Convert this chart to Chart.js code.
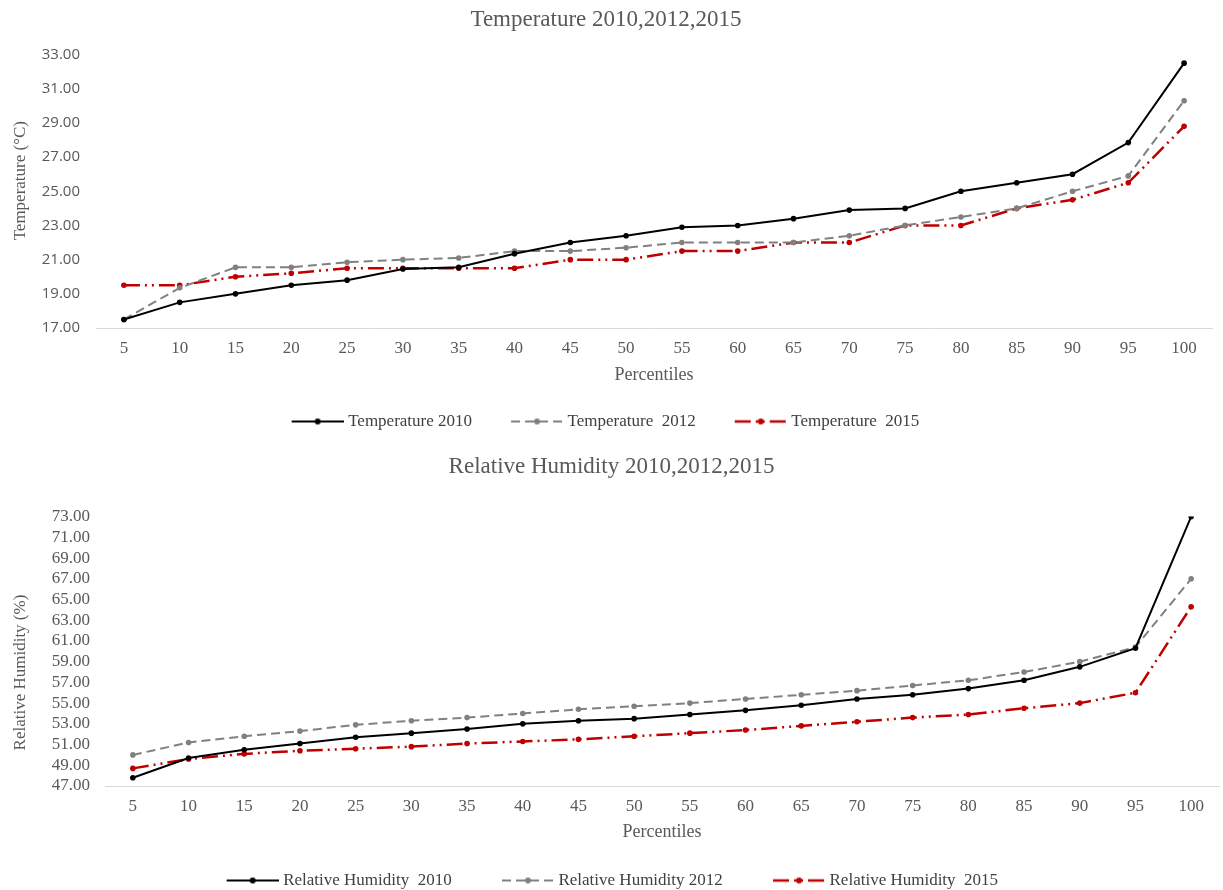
<!DOCTYPE html>
<html>
<head>
<meta charset="utf-8">
<script src="https://cdn.jsdelivr.net/npm/chart.js@4"></script>
<style>
  html, body { margin: 0; padding: 0; background: #fff; overflow: hidden; }
  #wrap1 { position: absolute; left: 0; top: 0; width: 1223px; height: 440px; }
  #wrap2 { position: absolute; left: 0; top: 445px; width: 1223px; height: 454px; }
</style>
</head>
<body>
<div id="wrap1"><canvas id="tempChart"></canvas></div>
<div id="wrap2"><canvas id="rhChart"></canvas></div>
<script>
// percentiles on the x axis
var percentiles = ['5','10','15','20','25','30','35','40','45','50','55','60','65','70','75','80','85','90','95','100'];

// temperature (°C)
var temp2010 = [17.5, 18.5, 19.0, 19.5, 19.8, 20.45, 20.55, 21.35, 22.0, 22.4, 22.9, 23.0, 23.4, 23.9, 24.0, 25.0, 25.5, 26.0, 27.85, 32.5];
var temp2012 = [17.5, 19.35, 20.55, 20.55, 20.85, 21.0, 21.1, 21.5, 21.5, 21.7, 22.0, 22.0, 22.0, 22.4, 23.0, 23.5, 24.0, 25.0, 25.9, 30.3];
var temp2015 = [19.5, 19.5, 20.0, 20.2, 20.5, 20.5, 20.5, 20.5, 21.0, 21.0, 21.5, 21.5, 22.0, 22.0, 23.0, 23.0, 24.0, 24.5, 25.5, 28.8];

// relative humidity (%)
var rh2010 = [47.8, 49.7, 50.5, 51.1, 51.7, 52.1, 52.5, 53.0, 53.3, 53.5, 53.9, 54.3, 54.8, 55.4, 55.8, 56.4, 57.2, 58.5, 60.3, 73.0];
var rh2012 = [50.0, 51.2, 51.8, 52.3, 52.9, 53.3, 53.6, 54.0, 54.4, 54.7, 55.0, 55.4, 55.8, 56.2, 56.7, 57.2, 58.0, 59.0, 60.4, 67.0];
var rh2015 = [48.7, 49.6, 50.1, 50.4, 50.6, 50.8, 51.1, 51.3, 51.5, 51.8, 52.1, 52.4, 52.8, 53.2, 53.6, 53.9, 54.5, 55.0, 56.0, 64.3];

var SERIF = "'Liberation Serif', 'Times New Roman', serif";
var TXT = '#595959';

var BLACK = '#000000', GREY = '#808080', RED = '#c00000';
var DASH_GREY = [9, 5];
var DASH_RED = [16, 5, 2, 5, 2, 5];

// legend picture: blank lead space, then a 52px line with the marker in its middle
// box width = lead + 48, picture is 8px wider so the line ends ~4px before the text
function legendIcon(color, dash, width, lead) {
  var c = document.createElement('canvas');
  var boxW = lead + 48;
  c.width = boxW + 8; c.height = 12;
  var g = c.getContext('2d');
  g.strokeStyle = color;
  g.lineWidth = width;
  g.setLineDash(dash);
  g.beginPath(); g.moveTo(lead + 4, 6); g.lineTo(boxW + 8, 6); g.stroke();
  g.fillStyle = color;
  g.beginPath(); g.arc(lead + 30, 6, 3, 0, Math.PI * 2); g.fill();
  return c;
}

function makeChart(id, cfg) {
  var icons = cfg.series.map(function (s) { return legendIcon(s.color, s.dash, s.width, cfg.legendLead); });
  return new Chart(document.getElementById(id), {
    type: 'line',
    data: {
      labels: percentiles,
      datasets: cfg.series.map(function (s) {
        return {
          label: s.label, data: s.data,
          borderColor: s.color, backgroundColor: s.color,
          borderWidth: s.width, borderDash: s.dash,
          pointRadius: 2.8, pointBorderWidth: 0, pointBackgroundColor: s.color,
          tension: 0, fill: false
        };
      })
    },
    options: {
      responsive: true,
      maintainAspectRatio: false,
      animation: false,
      layout: { padding: { left: 0, right: cfg.padRight, top: 0, bottom: 0 } },
      plugins: {
        title: {
          display: true, text: cfg.title, color: TXT,
          font: { family: SERIF, size: 23, weight: 'normal' },
          padding: { top: cfg.titleTop, bottom: cfg.titleBottom }
        },
        legend: {
          position: 'bottom',
          labels: {
            usePointStyle: true, pointStyleWidth: cfg.legendLead + 48, padding: 6,
            color: '#404040', font: { family: SERIF, size: 17 },
            generateLabels: function (chart) {
              return chart.data.datasets.map(function (ds, i) {
                return {
                  text: ds.label + cfg.legendTail, pointStyle: icons[i], datasetIndex: i, hidden: false,
                  fontColor: '#404040', lineWidth: 0,
                  strokeStyle: 'rgba(0,0,0,0)', fillStyle: 'rgba(0,0,0,0)'
                };
              });
            }
          }
        },
        tooltip: { enabled: false }
      },
      scales: {
        x: {
          offset: true,
          grid: { display: false, drawTicks: false },
          border: { display: true, color: '#d9d9d9', width: 1 },
          ticks: { color: TXT, font: { family: SERIF, size: 17 }, padding: 10, autoSkip: false, maxRotation: 0 },
          title: { display: true, text: 'Percentiles', color: TXT, font: { family: SERIF, size: 18 }, padding: { top: 0, bottom: cfg.xTitleBottom } },
          afterFit: function (s) { s.height = cfg.xHeight; }
        },
        y: {
          min: cfg.yMin, max: cfg.yMax,
          grid: { display: false, drawTicks: false },
          border: { display: false },
          ticks: {
            stepSize: 2, autoSkip: false, color: TXT, font: cfg.yTickFont, padding: cfg.yTickPad,
            callback: function (v) { return Number(v).toFixed(2); }
          },
          title: { display: true, text: cfg.yTitle, color: TXT, font: { family: SERIF, size: 17 }, padding: { top: 10, bottom: 0 } },
          afterFit: function (s) { s.width = cfg.yWidth; }
        }
      }
    }
  });
}

makeChart('tempChart', {
  title: 'Temperature 2010,2012,2015',
  yTitle: '     Temperature (°C)',
  yMin: 17, yMax: 33,
  yTickFont: { family: "'Open Sans', sans-serif", size: 15 },
  yTickPad: 16, yWidth: 96, padRight: 11,
  titleTop: 6, titleBottom: 21,
  xHeight: 79, xTitleBottom: 21,
  legendLead: 16, legendTail: '    ',
  series: [
    { label: 'Temperature 2010', data: temp2010, color: BLACK, dash: [], width: 2 },
    { label: 'Temperature  2012', data: temp2012, color: GREY, dash: DASH_GREY, width: 2 },
    { label: 'Temperature  2015', data: temp2015, color: RED, dash: DASH_RED, width: 2.5 }
  ]
});

makeChart('rhChart', {
  title: 'Relative Humidity 2010,2012,2015',
  yTitle: 'Relative Humidity (%)          ',
  yMin: 47, yMax: 73,
  yTickFont: { family: SERIF, size: 17 },
  yTickPad: 15, yWidth: 105, padRight: 0,
  titleTop: 8, titleBottom: 36,
  xHeight: 80, xTitleBottom: 23,
  legendLead: 23, legendTail: '     ',
  series: [
    { label: 'Relative Humidity  2010', data: rh2010, color: BLACK, dash: [], width: 2 },
    { label: 'Relative Humidity 2012', data: rh2012, color: GREY, dash: DASH_GREY, width: 2 },
    { label: 'Relative Humidity  2015', data: rh2015, color: RED, dash: DASH_RED, width: 2.5 }
  ]
});
</script>
</body>
</html>
